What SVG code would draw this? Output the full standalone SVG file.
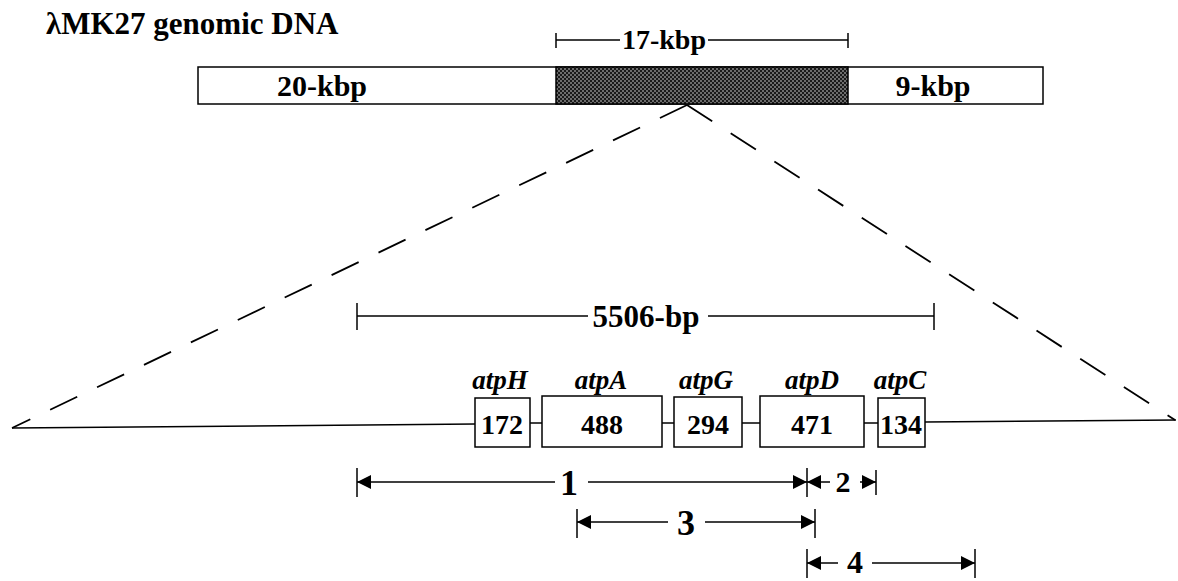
<svg xmlns="http://www.w3.org/2000/svg" width="1178" height="581" viewBox="0 0 1178 581">
<style>
.t{font-family:'Liberation Serif','Times New Roman','DejaVu Serif',serif;font-weight:700;fill:#000}
.gi{font-family:'Liberation Serif','Times New Roman','DejaVu Serif',serif;font-weight:700;font-style:italic;fill:#000;font-size:27px}
.ln{stroke:#000;stroke-width:1.5;fill:none}
.bx{stroke:#000;stroke-width:1.5;fill:#fff}
.ds{stroke:#000;stroke-width:1.8;fill:none;stroke-dasharray:30 22}
.ar{stroke:#000;stroke-width:1.5;fill:none;marker-end:url(#ah)}
</style>
<defs>
<pattern id="dots" width="4" height="4" patternUnits="userSpaceOnUse">
<rect width="4" height="4" fill="#1a1a1a"/>
<circle cx="1" cy="1" r="0.7" fill="#fff"/>
<circle cx="3" cy="3" r="0.7" fill="#fff"/>
</pattern>
<marker id="ah" viewBox="0 0 10 10" refX="10" refY="5" markerUnits="userSpaceOnUse" markerWidth="28" markerHeight="14" orient="auto">
<path d="M0,0 L10,5 L0,10 z" fill="#000"/>
</marker>
</defs>
<rect width="1178" height="581" fill="#fff"/>

<g id="title">
<text class="t" x="46" y="34" font-size="31">λMK27 genomic DNA</text>
</g>

<g id="bracket17">
<line class="ln" x1="556" y1="40" x2="620" y2="40"/>
<line class="ln" x1="708" y1="40" x2="848" y2="40"/>
<line class="ln" x1="556" y1="33" x2="556" y2="48"/>
<line class="ln" x1="848" y1="33" x2="848" y2="48"/>
<text class="t" x="664" y="49" font-size="28" text-anchor="middle">17-kbp</text>
</g>

<g id="genomic-bar">
<rect class="bx" x="198" y="67" width="845" height="37"/>
<rect x="556" y="67" width="292" height="37" fill="url(#dots)" stroke="#000" stroke-width="1.5"/>
<text class="t" x="322" y="96" font-size="30" text-anchor="middle">20-kbp</text>
<text class="t" x="933" y="96" font-size="30" text-anchor="middle">9-kbp</text>
</g>

<g id="expansion">
<line class="ds" x1="687" y1="105" x2="12" y2="428"/>
<line class="ds" x1="687" y1="105" x2="1175" y2="420"/>
</g>

<g id="bracket5506">
<line class="ln" x1="357" y1="316" x2="588" y2="316"/>
<line class="ln" x1="708" y1="316" x2="934" y2="316"/>
<line class="ln" x1="357" y1="303" x2="357" y2="330"/>
<line class="ln" x1="934" y1="303" x2="934" y2="330"/>
<text class="t" x="646" y="327" font-size="31" text-anchor="middle">5506-bp</text>
</g>

<g id="connectors">
<line class="ln" x1="12" y1="428" x2="475" y2="424"/>
<line class="ln" x1="530" y1="423" x2="542" y2="423"/>
<line class="ln" x1="662" y1="423" x2="674" y2="423"/>
<line class="ln" x1="742" y1="423" x2="760" y2="423"/>
<line class="ln" x1="864" y1="423" x2="878" y2="423"/>
<line class="ln" x1="925" y1="422" x2="1176" y2="420"/>
</g>

<g id="atpH">
<rect class="bx" x="475" y="398" width="55" height="49"/>
<text class="gi" x="500" y="389" text-anchor="middle">atpH</text>
<text class="t" x="502" y="434" font-size="28" text-anchor="middle">172</text>
</g>
<g id="atpA">
<rect class="bx" x="542" y="396" width="120" height="51"/>
<text class="gi" x="601" y="389" text-anchor="middle">atpA</text>
<text class="t" x="602" y="434" font-size="28" text-anchor="middle">488</text>
</g>
<g id="atpG">
<rect class="bx" x="674" y="397" width="68" height="50"/>
<text class="gi" x="706" y="389" text-anchor="middle">atpG</text>
<text class="t" x="708" y="434" font-size="28" text-anchor="middle">294</text>
</g>
<g id="atpD">
<rect class="bx" x="760" y="396" width="104" height="51"/>
<text class="gi" x="812" y="389" text-anchor="middle">atpD</text>
<text class="t" x="812" y="434" font-size="28" text-anchor="middle">471</text>
</g>
<g id="atpC">
<rect class="bx" x="878" y="398" width="47" height="49"/>
<text class="gi" x="900" y="389" text-anchor="middle">atpC</text>
<text class="t" x="901" y="434" font-size="28" text-anchor="middle">134</text>
</g>

<g id="fragment1">
<line class="ln" x1="357" y1="468" x2="357" y2="497"/>
<line class="ar" x1="555" y1="482" x2="357" y2="482"/>
<line class="ar" x1="588" y1="482" x2="807" y2="482"/>
<text class="t" x="569" y="495" font-size="36" text-anchor="middle">1</text>
</g>
<g id="fragment2">
<line class="ln" x1="807" y1="468" x2="807" y2="497"/>
<line class="ar" x1="830" y1="482" x2="807" y2="482"/>
<line class="ar" x1="860" y1="482" x2="876" y2="482"/>
<line class="ln" x1="876" y1="470" x2="876" y2="495"/>
<text class="t" x="843" y="492" font-size="30" text-anchor="middle">2</text>
</g>
<g id="fragment3">
<line class="ln" x1="577" y1="509" x2="577" y2="538"/>
<line class="ln" x1="815" y1="509" x2="815" y2="538"/>
<line class="ar" x1="668" y1="522" x2="577" y2="522"/>
<line class="ar" x1="705" y1="522" x2="815" y2="522"/>
<text class="t" x="686" y="535" font-size="36" text-anchor="middle">3</text>
</g>
<g id="fragment4">
<line class="ln" x1="807" y1="549" x2="807" y2="578"/>
<line class="ln" x1="975" y1="549" x2="975" y2="578"/>
<line class="ar" x1="838" y1="563" x2="807" y2="563"/>
<line class="ar" x1="872" y1="563" x2="975" y2="563"/>
<text class="t" x="855" y="573" font-size="32" text-anchor="middle">4</text>
</g>
</svg>
